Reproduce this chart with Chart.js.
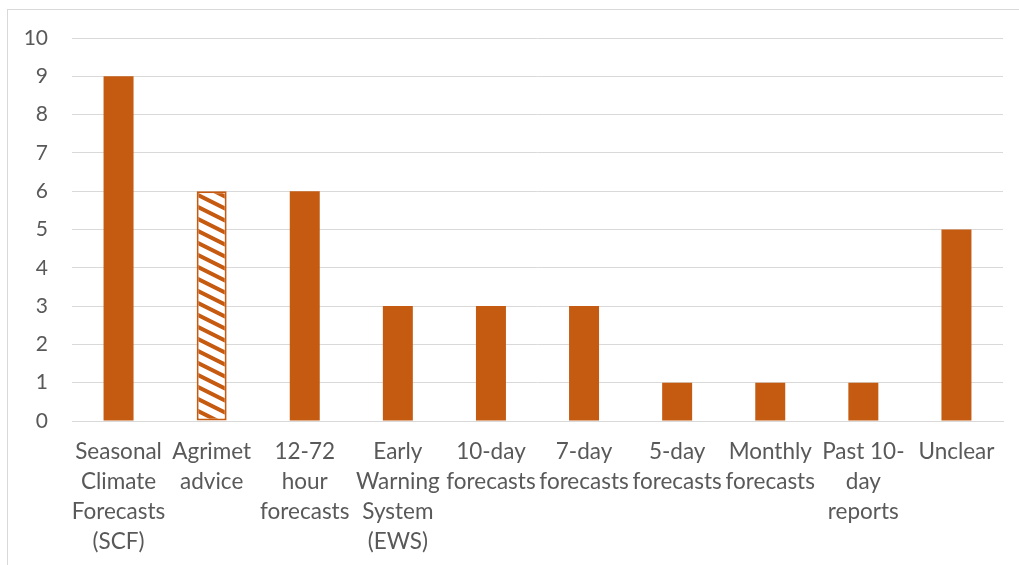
<!DOCTYPE html>
<html>
<head>
<meta charset="utf-8">
<script src="https://cdn.jsdelivr.net/npm/chart.js@4/dist/chart.umd.min.js"></script>
<style>
  html, body { margin: 0; padding: 0; background: #ffffff; overflow: hidden; }
  #frame {
    position: absolute; left: 7px; top: 9px; width: 1040px; height: 600px;
    border-left: 1px solid #d9d9d9; border-top: 1px solid #d9d9d9;
  }
  #wrap { position: absolute; left: 0; top: 0; width: 1019px; height: 565px; }
</style>
</head>
<body>
<div id="frame"></div>
<div id="wrap"><canvas id="chart" width="1019" height="565"></canvas></div>
<script>
// Information sources named by respondents
const categories = [
  ["Seasonal", "Climate", "Forecasts", "(SCF)"],
  ["Agrimet", "advice"],
  ["12-72", "hour", "forecasts"],
  ["Early", "Warning", "System", "(EWS)"],
  ["10-day", "forecasts"],
  ["7-day", "forecasts"],
  ["5-day", "forecasts"],
  ["Monthly", "forecasts"],
  ["Past 10-", "day", "reports"],
  ["Unclear"]
];
const counts = [9, 6, 6, 3, 3, 3, 1, 1, 1, 5];
// index of the bar drawn with a hatched fill
const hatchedIndex = [1];
const yTicks = [0, 1, 2, 3, 4, 5, 6, 7, 8, 9, 10];

const ORANGE = "#C55A11";
const TEXT = "#595959";
const GRID = "#d9d9d9";
const FONT = "Lato, 'Open Sans', sans-serif";

// diagonal stripe fill
function makeHatch() {
  const t = document.createElement("canvas");
  t.width = 24; t.height = 12;
  const c = t.getContext("2d");
  c.fillStyle = "#ffffff";
  c.fillRect(0, 0, 24, 12);
  c.strokeStyle = ORANGE;
  c.lineWidth = 4;
  for (let k = -1; k <= 1; k++) {
    c.beginPath();
    c.moveTo(-2, k * 12 - 1);
    c.lineTo(26, k * 12 + 13);
    c.stroke();
  }
  return c.createPattern(t, "repeat");
}
const hatch = makeHatch();

const fills = counts.map((v, i) => hatchedIndex.includes(i) ? hatch : ORANGE);

new Chart(document.getElementById("chart"), {
  type: "bar",
  data: {
    labels: categories,
    datasets: [{
      data: counts,
      backgroundColor: fills,
      borderColor: ORANGE,
      borderWidth: counts.map((v, i) => hatchedIndex.includes(i) ? 2 : 0),
      borderSkipped: false,
      categoryPercentage: 1,
      barPercentage: 0.322
    }]
  },
  options: {
    responsive: false,
    animation: false,
    layout: { padding: { top: 38, right: 16, left: 0, bottom: 0 } },
    plugins: { legend: { display: false }, tooltip: { enabled: false } },
    scales: {
      x: {
        grid: { display: false, drawTicks: false },
        border: { display: true, color: GRID, width: 1 },
        ticks: {
          color: TEXT, padding: 16, autoSkip: false, maxRotation: 0,
          font: { family: FONT, size: 22.5, lineHeight: 1.333 }
        },
        afterFit: s => { s.height = 144; }
      },
      y: {
        min: 0, max: 10,
        afterBuildTicks: s => { s.ticks = yTicks.map(v => ({ value: v })); },
        grid: { color: GRID, lineWidth: 1, drawTicks: false },
        border: { display: false },
        ticks: {
          color: TEXT, padding: 24,
          font: { family: FONT, size: 21 }
        },
        afterFit: s => { s.width = 72; }
      }
    }
  }
});
</script>
</body>
</html>
